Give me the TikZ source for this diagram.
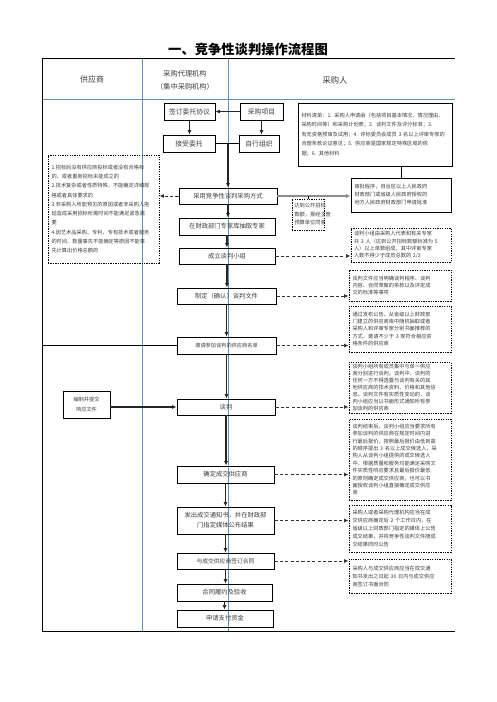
\documentclass[tikz,border=0pt]{standalone}
\usepackage{fontspec}
\setmainfont{Noto Sans CJK SC}
\usetikzlibrary{arrows.meta,calc}
\definecolor{colline}{RGB}{95,145,190}
\definecolor{txt}{RGB}{60,60,60}
\tikzset{
  box/.style={draw=black, line width=0.9pt, inner sep=0pt, align=center, text=txt, font=\fontsize{6.3}{8.5}\selectfont},
  solidnote/.style={draw=black, line width=0.9pt, inner sep=0pt, align=left, text=txt, font=\fontsize{5.2}{7.6}\selectfont},
  note/.style={draw=black, line width=0.9pt, dash pattern=on 1.3pt off 1.1pt, inner sep=0pt, align=left, text=txt, font=\fontsize{5.2}{7.4}\selectfont},
  arr/.style={line width=1.1pt, draw=black!85, -{Latex[length=4.5pt,width=4pt]}},
  darr/.style={line width=1pt, draw=black!80, dash pattern=on 3.2pt off 2.2pt, -{Latex[length=4.5pt,width=4pt]}},
  gline/.style={line width=1.8pt, draw=black!45, -{Latex[length=4.5pt,width=4.5pt]}},
  plain/.style={line width=0.9pt, draw=black},
  hdr/.style={inner sep=0pt, text=txt, align=center},
  colrule/.style={line width=0.6pt, draw=colline},
  frame/.style={line width=1pt, draw=black},
}
\begin{document}
\begin{tikzpicture}[x=1pt,y=-1pt]
\useasboundingbox (0,0) rectangle (496,702);
% title
\node[inner sep=0pt, font=\fontsize{13.3}{14}\selectfont\bfseries] (title) at (248,49) {一、竞争性谈判操作流程图};
% table
\draw[colrule] (42,99) -- (455,99);
\draw[colrule] (142,58) -- (142,631);
\draw[colrule] (228,58) -- (228,631);
\draw[frame] (42,58) -- (455,58);
\draw[frame] (42,58) -- (42,631);
\draw[frame] (42,631) -- (455,631);
\coordinate (lft) at (42,345.5);
\node[hdr, font=\fontsize{8}{10}\selectfont] (h1) at (92,79) {供应商};
\node[hdr, font=\fontsize{7.2}{12.5}\selectfont] (h2) at (185,80.5) {采购代理机构\\（集中采购机构）};
\node[hdr, font=\fontsize{8.3}{10}\selectfont] (h3) at (335,80) {采购人};

% main boxes
\node[box, minimum width=51, minimum height=17, font=\fontsize{6.8}{8}\selectfont] (qw) at (189.5,111.5) {签订委托协议};
\node[box, minimum width=43, minimum height=17, font=\fontsize{6.8}{8}\selectfont] (xm) at (261.5,111.5) {采购项目};
\node[box, minimum width=52, minimum height=17, font=\fontsize{6.8}{8}\selectfont] (js) at (189,143.5) {接受委托};
\node[box, minimum width=40, minimum height=17, font=\fontsize{6.8}{8}\selectfont] (zx) at (259,143.5) {自行组织};
\node[box, minimum width=98, minimum height=16] (cg) at (228,196) {采用竞争性谈判采购方式};
\node[box, minimum width=96, minimum height=17] (cq) at (227,226.5) {在财政部门专家库抽取专家};
\node[box, minimum width=96, minimum height=16] (cl) at (227,256) {成立谈判小组};
\node[box, minimum width=99, minimum height=16] (zd) at (226.5,296) {制定（确认）谈判文件};
\node[box, minimum width=99, minimum height=17, font=\fontsize{5.2}{7}\selectfont] (yq) at (226.5,345.5) {邀请参加谈判的供应商名单};
\node[box, minimum width=98, minimum height=16] (tp) at (226,407) {谈判};
\node[box, minimum width=97, minimum height=17] (qd) at (225.5,474.5) {确定成交供应商};
\node[box, minimum width=97, minimum height=27, font=\fontsize{6.3}{10}\selectfont] (fc) at (225.5,520.5) {发出成交通知书，并在财政部\\门指定媒体公布结果};
\node[box, minimum width=97, minimum height=16, font=\fontsize{5.8}{8}\selectfont] (qht) at (225.5,561) {与成交供应商签订合同};
\node[box, minimum width=95, minimum height=17] (ly) at (224.5,592.5) {合同履约及验收};
\node[box, minimum width=96, minimum height=17] (zf) at (225,618.5) {申请支付资金};

% supplier box
\node[box, minimum width=47, minimum height=27, font=\fontsize{5.2}{10.5}\selectfont] (bz) at (86.5,404.5) {编制并提交\\响应文件};

% left dotted box
\node[note, minimum width=111, minimum height=108, text width=104, font=\fontsize{5.2}{9.3}\selectfont] (lb) at (103.5,209) {1.招标后没有供应商投标或者没有合格标\\的，或者重新招标未能成立的\\2.技术复杂或者性质特殊，不能确定详细规\\格或者具体要求的\\3.非采购人所能预见的原因或者非采购人拖\\延造成采用招标所需时间不能满足紧急需\\要\\4.因艺术品采购、专利、专有技术或者服务\\的时间、数量事先不能确定等原因不能事\\先计算出价格总额的};

% small dotted box
\node[note, minimum width=32, minimum height=31, text width=27, font=\fontsize{5.2}{8.5}\selectfont] (dk) at (308,214.5) {达到公开招标\\数额，报经主管\\预算单位同意};

% solid notes
\node[solidnote, minimum width=154, minimum height=63, text width=147, font=\fontsize{5.2}{9.6}\selectfont] (mat) at (375,134.5) {材料清单：1. 采购人申请函（包括项目基本情况、情况理由、\\采购时间等）和采购计划表；2. 谈判文件及评分标准；3.\\有无资格预审及试用；4. 评标委员会成员 3 名以上评审专家的\\合理条款论证意见；5. 供应商是国家规定特殊区域的依\\据；6. 其他材料};
\node[solidnote, minimum width=100, minimum height=34, text width=93, font=\fontsize{5.2}{8}\selectfont] (sp) at (401,195) {审批程序，自治区以上人民政府\\财政部门或省级人民政府授权的\\地方人民政府财政部门申请批准};

% right dotted notes
\node[note, minimum width=100, minimum height=34, text width=94] (r1) at (401,245) {谈判小组由采购人代表和有关专家\\共 3 人（达到公开招标数额标准为 5\\人）以上单数组成，其中评审专家\\人数不得少于成员总数的 2/3};
\node[note, minimum width=102, minimum height=31, text width=95] (r2) at (400,285.5) {谈判文件应当明确谈判程序、谈判\\内容、合同草案的条款以及评定成\\交的标准等事项};
\node[note, minimum width=102, minimum height=46, text width=95] (r3) at (400,329) {通过发布公告、从省级以上财政部\\门建立的供应商库中随机抽取或者\\采购人和评审专家分别书面推荐的\\方式，邀请不少于 3 家符合相应资\\格条件的供应商};
\node[note, minimum width=102, minimum height=51, text width=95, font=\fontsize{5.2}{6.9}\selectfont] (r4) at (400,387.5) {谈判小组所有成员集中与单一供应\\商分别进行谈判。谈判中，谈判的\\任何一方不得透露与谈判有关的其\\他供应商的技术资料、价格和其他信\\息。谈判文件有实质性变动的，谈\\判小组应当以书面形式通知所有参\\加谈判的供应商};
\node[note, minimum width=102, minimum height=81, text width=95, font=\fontsize{5.2}{7.4}\selectfont] (r5) at (400,459.5) {谈判结束后，谈判小组应当要求所有\\参加谈判的供应商在规定时间内进\\行最后报价，按照最后报价由低到高\\的顺序提出 3 名以上成交候选人，采\\购人从谈判小组提供的成交候选人\\中，根据质量和服务均能满足采购文\\件实质性响应要求且最后报价最低\\的原则确定成交供应商，也可以书\\面授权谈判小组直接确定成交供应\\商};
\node[note, minimum width=102, minimum height=47, text width=95, font=\fontsize{5.2}{8}\selectfont] (r6) at (400,528.5) {采购人或者采购代理机构应当在成\\交供应商确定后 2 个工作日内，在\\省级以上财政部门指定的媒体上公告\\成交结果，并将竞争性谈判文件随成\\交结果同时公告};
\node[note, minimum width=102, minimum height=34, text width=95, font=\fontsize{5.2}{8}\selectfont] (r7) at (400,576) {采购人与成交供应商应当在成交通\\知书发出之日起 30 日内与成交供应\\商签订书面合同};

% connectors top
\draw[arr] (xm.west) -- (qw.east);
\draw[arr] (qw.south) -- (qw.south |- js.north);
\draw[arr] (xm.south) -- (xm.south |- zx.north);
\draw[plain] (js.east) -- (zx.west);
\coordinate (jn) at (js.east -| cg.north);
\draw[arr] (jn) -- (cg.north);
\draw[plain] (mat.south -| sp.north) -- (sp.north);
\coordinate (gj) at (cg.east -| dk.north);
\draw[gline] (cg.east) -- (cg.east -| sp.west);
\draw[plain] (gj) -- (dk.north);
\draw[darr] (cg.west) -- (cg.west -| lb.east);

% main flow
\draw[arr] (cg.south) -- (cg.south |- cq.north);
\draw[arr] (cq.south) -- (cq.south |- cl.north);
\draw[arr] (cl.south) -- (cl.south |- zd.north);
\draw[arr] (zd.south) -- (zd.south |- yq.north);
\draw[arr] (yq.south) -- (yq.south |- tp.north);
\draw[arr] (tp.south) -- (tp.south |- qd.north);
\draw[arr] (qd.south) -- (qd.south |- fc.north);
\draw[arr] (fc.south) -- (fc.south |- qht.north);
\draw[arr] (qht.south) -- (qht.south |- ly.north);
\draw[arr] (ly.south) -- (ly.south |- zf.north);

% supplier links
\draw[plain] (yq.west) -- (lft);
\draw[arr] (bz.east |- tp.west) -- (tp.west);

% dashed notes
\draw[darr] (cl.east) -- (cl.east -| r1.west);
\draw[darr] (zd.east) -- (zd.east -| r2.west);
\draw[darr] (yq.east) -- (yq.east -| r3.west);
\draw[darr] (tp.east) -- (tp.east -| r4.west);
\draw[darr] (qd.east) -- (qd.east -| r5.west);
\draw[darr] (fc.east) -- (fc.east -| r6.west);
\draw[darr] (qht.east) -- (qht.east -| r7.west);
\end{tikzpicture}
\end{document}
